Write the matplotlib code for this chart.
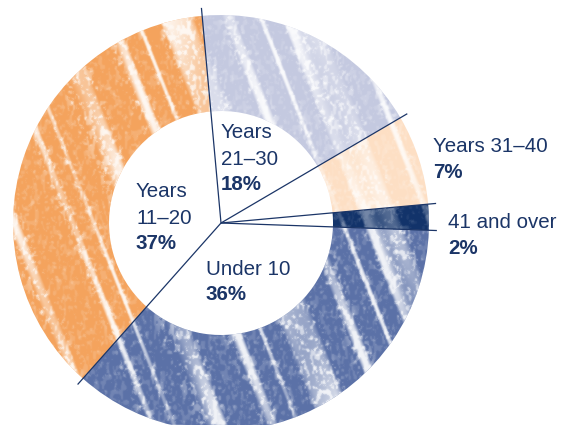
import numpy as np
import matplotlib
matplotlib.use("Agg")
import matplotlib.pyplot as plt
from matplotlib.patches import Wedge

# --- Data: age of buildings, share by band (clockwise from the top) ---
bands = ["Years 21\u201330", "Years 31\u201340", "41 and over", "Under 10", "Years 11\u201320"]
shares = [18, 7, 2, 36, 37]
colors = ["#c4c9e0", "#fddfc4", "#12336a", "#5b71a7", "#f4a35d"]
# how strongly the crayon streaks show on each band
texture_strength = [1.0, 0.9, 0.45, 1.0, 1.0]

# label text lines and where each block starts (pixel coords, y down)
label_lines = [["Years", "21\u201330"], ["Years 31\u201340"], ["41 and over"],
               ["Under 10"], ["Years", "11\u201320"]]
label_xy = [(221, 138), (433, 152), (448, 228), (206, 275), (136, 197)]

W, H = 564, 425
navy = "#1b3567"
cx, cy = 221, H - 223
r_out, r_in = 208, 112
start = 95.2

plt.rcParams['font.family'] = ['Liberation Sans', 'DejaVu Sans']

fig = plt.figure(figsize=(W / 100, H / 100), dpi=100)
ax = fig.add_axes([0, 0, 1, 1])

wedges, _ = ax.pie(shares, colors=colors, startangle=start, counterclock=False,
                   radius=r_out, center=(cx, cy), frame=True,
                   wedgeprops=dict(width=r_out - r_in, linewidth=0))
ax.set_xlim(0, W)
ax.set_ylim(0, H)
ax.set_aspect('equal')
ax.axis('off')


def hash_noise(a, b):
    return np.modf(np.abs(np.sin(a * 12.9898 + b * 78.233) * 43758.5453))[0]


def box_blur(img, k):
    out = np.zeros_like(img)
    for dy in range(-k, k + 1):
        for dx in range(-k, k + 1):
            out += np.roll(np.roll(img, dy, axis=0), dx, axis=1)
    return out / (2 * k + 1) ** 2


# pencil-stroke texture: slanted white streaks plus grain, clipped to the ring
yy, xx = np.mgrid[0:H, 0:W].astype(float)
u = xx * 0.93 - yy * 0.37      # across the strokes
v = xx * 0.37 + yy * 0.93      # along the strokes
phase = (2 * np.pi * u / 38.0 + 1.8 * np.sin(2 * np.pi * u / 113.0)
         + 0.9 * np.sin(2 * np.pi * u / 61.0))
streak = np.sin(phase)
fade = 0.7 + 0.3 * np.sin(v / 41.0 + u / 23.0)
streak = np.clip((streak - 0.68) / 0.3, 0, 1) * fade

grain = box_blur(hash_noise(xx, yy), 1)
grain2 = box_blur(hash_noise(np.floor(xx / 2) + 3.1, np.floor(yy / 5) + 7.7), 1)
speck = np.clip((grain - 0.58) / 0.1, 0, 1) * 0.5 + np.clip((grain2 - 0.62) / 0.1, 0, 1) * 0.35
# grain is heavier next to the streaks
near = np.clip((np.sin(phase) + 0.2) / 0.8, 0, 1)
alpha = np.clip(streak * 0.92 + speck * (0.4 + 0.6 * near), 0, 0.92)
alpha = box_blur(alpha, 1) * 0.6 + alpha * 0.4

# scale the texture band by band (angles measured clockwise from the start)
bounds = start - np.cumsum([0] + shares) * 3.6
ang = np.degrees(np.arctan2((H - yy) - cy, xx - cx))
cw = (start - ang) % 360
cum = np.cumsum([0] + shares) * 3.6
strength = np.ones_like(alpha)
for k, s in enumerate(texture_strength):
    strength[(cw >= cum[k]) & (cw < cum[k + 1])] = s
alpha = alpha * strength

tex = np.ones((H, W, 4))
tex[..., 3] = alpha
im = ax.imshow(tex, extent=(0, W, 0, H), origin='upper', zorder=2,
               interpolation='bilinear')
ring = Wedge((cx, cy), r_out, 0, 360, width=r_out - r_in,
             transform=ax.transData, facecolor='none', edgecolor='none')
ax.add_patch(ring)
im.set_clip_path(ring)
ax.set_xlim(0, W)
ax.set_ylim(0, H)

# thin dividers from the centre, running past the outer edge
for a in bounds[:-1]:
    t = np.deg2rad(a)
    ax.plot([cx, cx + 216 * np.cos(t)], [cy, cy + 216 * np.sin(t)],
            color=navy, lw=0.9, zorder=3, solid_capstyle='butt')

# labels: name lines in regular weight, share in bold
for lines, share, (lx, ly) in zip(label_lines, shares, label_xy):
    for i, s in enumerate(lines):
        ax.text(lx, H - (ly + 26.5 * i), s, fontsize=14.8, color=navy,
                va='baseline', ha='left', zorder=4)
    ax.text(lx, H - (ly + 26.5 * len(lines) - 1), f"{share}%", fontsize=14.8,
            fontweight='bold', color=navy, va='baseline', ha='left', zorder=4)

fig.savefig("out.png", dpi=100)
